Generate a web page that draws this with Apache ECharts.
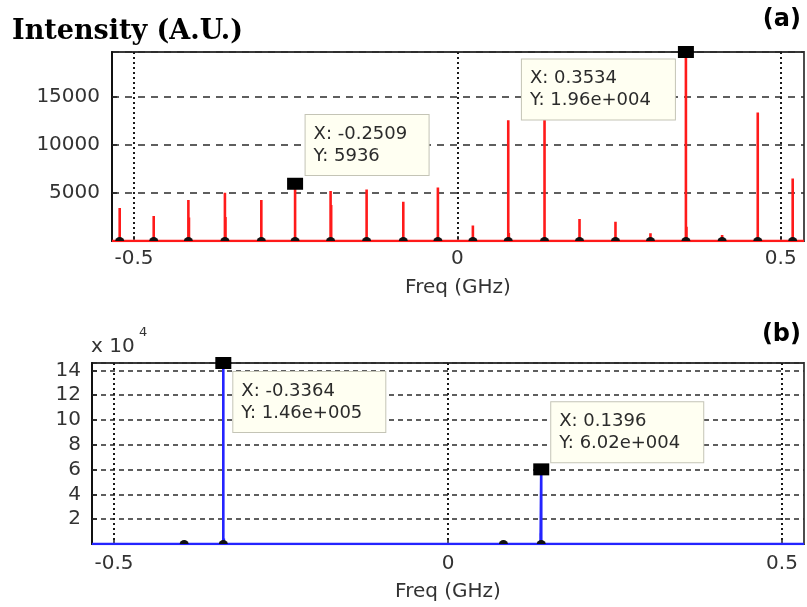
<!DOCTYPE html>
<html>
<head>
<meta charset="utf-8">
<script src="https://cdn.jsdelivr.net/npm/echarts@6/dist/echarts.min.js"></script>
<style>
  html, body { margin: 0; padding: 0; background: #ffffff; }
  #chart { width: 807px; height: 607px; }
</style>
</head>
<body>
<div id="chart"></div>
<script>
// Panel (a): main spectral lines, frequency (GHz) and intensity (A.U.)
const peakFreqA = [-0.5221, -0.4695, -0.4159, -0.3594, -0.3031, -0.2509, -0.1960, -0.1403, -0.0836, -0.0301,
                   0.0240, 0.0787, 0.1348, 0.1889, 0.2445, 0.2986, 0.3534, 0.4094, 0.4645, 0.5185];
const peakAmpA  = [3420, 2590, 4250, 5000, 4250, 5936, 5180, 5350, 4070, 5560,
                   1600, 12530, 12600, 2280, 2000, 800, 19600, 620, 13320, 6490];
// Panel (a): weaker shoulder lines right next to some main lines
const shoulderFreqA = [-0.4150, -0.3585, -0.1951, 0.0796, 0.3543];
const shoulderAmpA  = [2450, 2480, 3730, 830, 1480];

// Panel (b): spectral lines after filtering
const peakFreqB = [-0.3950, -0.3364, 0.0830, 0.1396];
const peakAmpB  = [700, 146000, 700, 60200];
const shoulderFreqB = [-0.3356, 0.1386];
const shoulderAmpB  = [4500, 8700];

// Data-tip readouts
const tipFreqA = [-0.2509, 0.3534];
const tipAmpA  = [5936, 19600];
const tipFreqB = [-0.3364, 0.1396];
const tipAmpB  = [146000, 60200];

// Axis ticks and extents
const freqTicks = [-0.5, 0, 0.5];
const rangeA = [-0.534, 0.536];
const rangeB = [-0.533, 0.533];

// Each line is drawn as a vertical stroke rising from the zero baseline
function spectrum(freqs, amps, extraF, extraA, lo, hi) {
  const pts = freqs.map((f, i) => [f, amps[i]])
    .concat(extraF.map((f, i) => [f, extraA[i]]))
    .sort((a, b) => a[0] - b[0]);
  const out = [[lo, 0]];
  pts.forEach(([f, a]) => { out.push([f, 0], [f, a], [f, 0]); });
  out.push([hi, 0]);
  return out;
}

// Number format of the data tips (e.g. 1.96e+004)
function tipNum(v) {
  if (Math.abs(v) >= 1e4) {
    const parts = v.toExponential(2).split('e');
    const exp = parts[1];
    return parts[0] + 'e' + exp[0] + exp.slice(1).padStart(3, '0');
  }
  return String(v);
}

const tipPosA = [[18.5, -62.7], [-156, 13.6]];
const tipWidthA = [107, 137];
const tipPosB = [[18, 15], [18, -61]];
const tipWidthB = [136, 136];

const sans = 'DejaVu Sans';
const axisText = { fontFamily: sans, fontSize: 20, color: '#333333' };
const baseMark = 'path://M0,10 A10,10 0 0 1 20,10 Z';

function xAxisFor(gi, range, margin, nameGap) {
  return {
    gridIndex: gi, type: 'value', min: range[0], max: range[1],
    axisLine: { show: true, onZero: false, lineStyle: { color: '#222', width: 1 } },
    axisTick: { show: true, inside: true, length: 5, customValues: freqTicks, lineStyle: { color: '#222', width: 1.5 } },
    axisLabel: Object.assign({ customValues: freqTicks, margin: margin, formatter: v => String(v) }, axisText),
    splitLine: { show: true, lineStyle: { type: [2, 3], color: '#1a1a1a', width: 2 } },
    name: 'Freq (GHz)', nameLocation: 'middle', nameGap: nameGap,
    nameTextStyle: { fontFamily: sans, fontSize: 20, color: '#333333' }
  };
}

function yAxisFor(gi, max, interval, margin, dash, fmt) {
  return {
    gridIndex: gi, type: 'value', min: 0, max: max, interval: interval,
    axisLine: { show: true, onZero: false, lineStyle: { color: '#111', width: 2 } },
    axisTick: { show: true, inside: true, length: 5, lineStyle: { color: '#222', width: 1.5 } },
    axisLabel: Object.assign({ margin: margin, showMinLabel: false, showMaxLabel: false, formatter: fmt }, axisText),
    splitLine: { show: true, lineStyle: { type: dash, color: '#2a2a2a', width: 1.6 } }
  };
}

function lineSeries(xi, color, data) {
  return {
    type: 'line', xAxisIndex: xi, yAxisIndex: xi, z: 3, showSymbol: false,
    lineStyle: { color: color, width: 2.6, join: 'bevel' },
    data: data,
    emphasis: { disabled: true }
  };
}

function tipSeries(xi, freqs, amps, pos, widths) {
  return {
    type: 'scatter', xAxisIndex: xi, yAxisIndex: xi, z: 5, clip: false,
    symbol: 'rect', symbolSize: [16, 12],
    itemStyle: { color: '#000000', opacity: 1 },
    data: freqs.map((f, i) => ({
      value: [f, amps[i]],
      label: { position: pos[i], width: widths[i] }
    })),
    label: {
      show: true,
      formatter: p => 'X: ' + p.value[0].toFixed(4) + '\nY: ' + tipNum(p.value[1]),
      fontFamily: sans, fontSize: 18, color: '#2b2b2b', lineHeight: 22,
      backgroundColor: '#fffff2', borderColor: '#c4c4b6', borderWidth: 1,
      padding: [8, 8, 8, 8]
    },
    emphasis: { disabled: true },
    animation: false
  };
}

function baseSeries(xi, freqs) {
  return {
    type: 'scatter', xAxisIndex: xi, yAxisIndex: xi, z: 4,
    symbol: baseMark, symbolSize: [9, 4], symbolOffset: [0, -2],
    itemStyle: { color: '#111111', opacity: 1 },
    data: freqs.map(f => [f, 0]),
    emphasis: { disabled: true },
    animation: false
  };
}

const chart = echarts.init(document.getElementById('chart'), null, { renderer: 'canvas' });
chart.setOption({
  animation: false,
  backgroundColor: '#ffffff',
  graphic: [
    { type: 'text', left: 12, top: 18, style: { text: 'Intensity (A.U.)', font: 'bold 27px "DejaVu Serif"', fill: '#000000' } },
    { type: 'text', right: 6, top: 8, style: { text: '(a)', font: 'bold 24px "DejaVu Sans"', fill: '#000000' } },
    { type: 'text', right: 6, top: 323, style: { text: '(b)', font: 'bold 24px "DejaVu Sans"', fill: '#000000' } },
    { type: 'text', left: 91, top: 337, style: { text: 'x 10', font: '20px "DejaVu Sans"', fill: '#333333' } },
    { type: 'text', left: 139, top: 326, style: { text: '4', font: '13px "DejaVu Sans"', fill: '#333333' } }
  ],
  grid: [
    { left: 112, top: 52, width: 692, height: 189, show: true, borderColor: '#3a3a3a', borderWidth: 1.8 },
    { left: 92, top: 363, width: 712, height: 181, show: true, borderColor: '#3a3a3a', borderWidth: 1.8 }
  ],
  xAxis: [xAxisFor(0, rangeA, 8, 37), xAxisFor(1, rangeB, 10, 38)],
  yAxis: [
    yAxisFor(0, 19600, 5000, 12, [7, 6], v => String(v)),
    yAxisFor(1, 146000, 20000, 11, [5, 4], v => String(v / 10000))
  ],
  series: [
    lineSeries(0, '#ff1a1a', spectrum(peakFreqA, peakAmpA, shoulderFreqA, shoulderAmpA, rangeA[0], rangeA[1])),
    baseSeries(0, peakFreqA),
    tipSeries(0, tipFreqA, tipAmpA, tipPosA, tipWidthA),
    lineSeries(1, '#2424ff', spectrum(peakFreqB, peakAmpB, shoulderFreqB, shoulderAmpB, rangeB[0], rangeB[1])),
    baseSeries(1, peakFreqB),
    tipSeries(1, tipFreqB, tipAmpB, tipPosB, tipWidthB)
  ]
});
</script>
</body>
</html>
